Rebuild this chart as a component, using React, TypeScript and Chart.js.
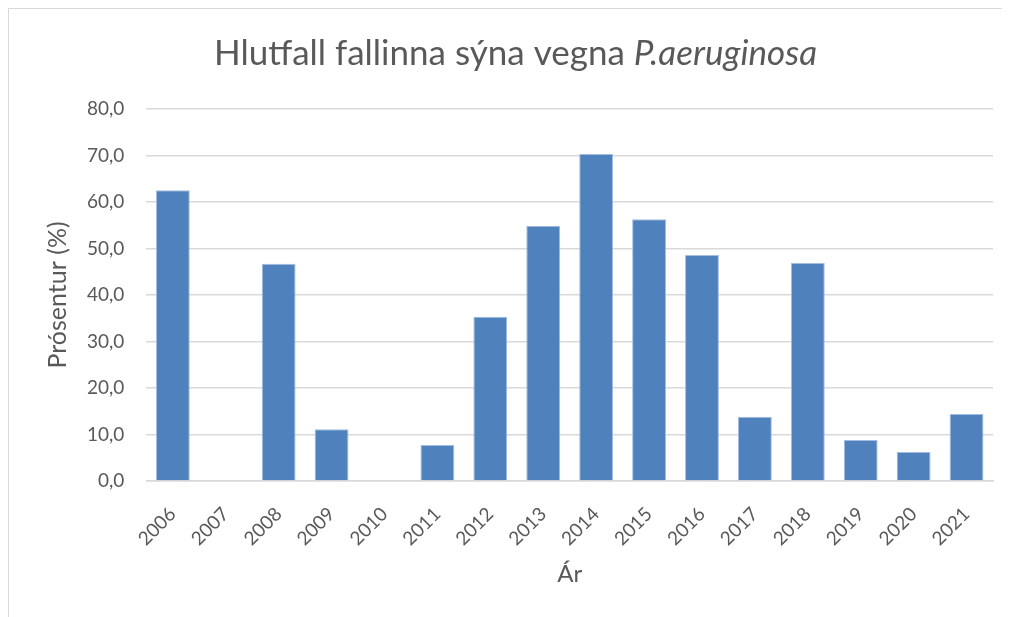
import React, { useEffect, useRef } from "react";
import { Chart, registerables } from "chart.js";

Chart.register(...registerables);

const years = ["2006", "2007", "2008", "2009", "2010", "2011", "2012", "2013", "2014", "2015", "2016", "2017", "2018", "2019", "2020", "2021"];
const percentValues = [62.5, 0, 46.7, 11.1, 0, 7.7, 35.3, 54.9, 70.3, 56.3, 48.6, 13.8, 46.9, 8.8, 6.2, 14.4];
const yTicks = [0, 10, 20, 30, 40, 50, 60, 70, 80];
const titleNormal = "Hlutfall fallinna sýna vegna ";
const titleItalic = "P.aeruginosa";
const yTitle = "Prósentur (%)";
const xTitle = "Ár";

const FONT = "Lato, 'Open Sans', sans-serif";
const TEXT = "#595959";

const titlePlugin = {
  id: "mixedTitle",
  afterDraw(chart: any) {
    const ctx = chart.ctx;
    ctx.save();
    ctx.fillStyle = TEXT;
    ctx.textBaseline = "alphabetic";
    ctx.textAlign = "left";
    const size = 35;
    const fN = `${size}px ${FONT}`;
    const fI = `italic ${size}px ${FONT}`;
    ctx.font = fN;
    const w1 = ctx.measureText(titleNormal).width;
    ctx.font = fI;
    const w2 = ctx.measureText(titleItalic).width;
    const cx = chart.width / 2 + 6;
    const x0 = cx - (w1 + w2) / 2;
    const y = 56;
    ctx.font = fN;
    ctx.fillText(titleNormal, x0, y);
    ctx.font = fI;
    ctx.fillText(titleItalic, x0 + w1, y);
    ctx.restore();
  },
};

export default function App() {
  const ref = useRef<HTMLCanvasElement | null>(null);
  useEffect(() => {
    if (!ref.current) return;
    const chart = new Chart(ref.current, {
      type: "bar",
      data: {
        labels: years,
        datasets: [
          {
            data: percentValues,
            backgroundColor: "#4F81BD",
            borderColor: "#A3BCE0",
            borderWidth: 1,
            barPercentage: 0.64,
            categoryPercentage: 1,
          },
        ],
      },
      options: {
        animation: false,
        responsive: true,
        maintainAspectRatio: false,
        layout: { padding: { top: 100, right: 17, bottom: 28, left: 34 } },
        plugins: { legend: { display: false }, tooltip: { enabled: false } },
        scales: {
          x: {
            afterFit(axis: any) {
              axis.paddingLeft = 0;
              axis.paddingRight = 0;
              axis.height -= 12;
            },
            grid: { display: false, drawTicks: false },
            border: { display: true, color: "#D9D9D9", width: 1.5 },
            ticks: {
              color: TEXT,
              font: { family: FONT, size: 19 },
              minRotation: 45,
              maxRotation: 45,
              padding: 22,
            },
            title: {
              display: true,
              text: xTitle,
              color: TEXT,
              font: { family: FONT, size: 24 },
              padding: { top: 0, bottom: 0 },
            },
          },
          y: {
            min: 0,
            max: 80,
            afterBuildTicks(axis: any) {
              axis.ticks = yTicks.map((v) => ({ value: v }));
            },
            afterFit(axis: any) {
              axis.width -= 22;
            },
            grid: { color: "#D9D9D9", lineWidth: 1.5, drawTicks: false },
            border: { display: false },
            ticks: {
              color: TEXT,
              font: { family: FONT, size: 19 },
              padding: 22,
              callback: (v: any) => Number(v).toFixed(1).replace(".", ","),
            },
            title: {
              display: true,
              text: yTitle,
              color: TEXT,
              font: { family: FONT, size: 25 },
              padding: { top: 0, bottom: 14 },
            },
          },
        },
      },
      plugins: [titlePlugin],
    });
    return () => chart.destroy();
  }, []);
  return (
    <div
      style={{
        width: 1001,
        height: 608,
        borderTop: "1px solid #D9D9D9",
        borderLeft: "1px solid #D9D9D9",
        position: "relative",
      }}
    >
      <canvas ref={ref} />
    </div>
  );
}
